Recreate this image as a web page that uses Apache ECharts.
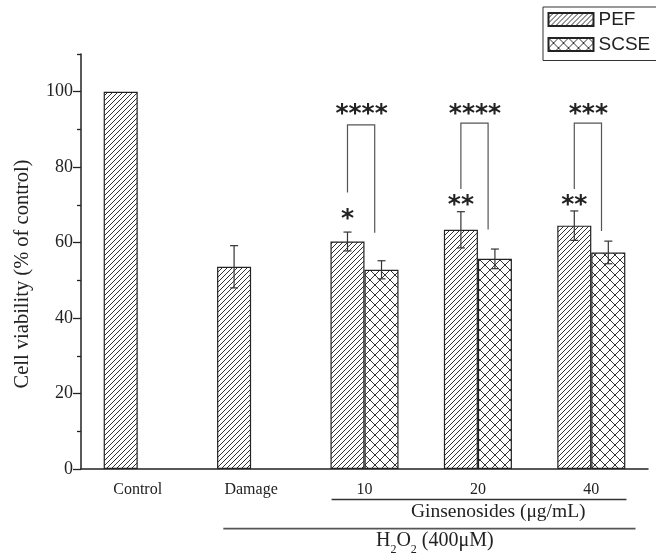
<!DOCTYPE html>
<html><head><meta charset="utf-8">
<script src="https://cdn.jsdelivr.net/npm/echarts@6/dist/echarts.min.js"></script>
<style>html,body{margin:0;padding:0;background:#fff}#c{width:656px;height:557px}</style>
</head><body><div id="c"></div>
<script>
// ---- data ----
const categories = ['Control', 'Damage', '10', '20', '40'];
const pefValues = [100, 53.6, 60.3, 63.4, 64.5];
const pefErrors = [null, 5.6, 2.5, 4.8, 3.9];
const scseValues = ['-', '-', 52.8, 55.7, 57.4];
const scseErrors = [null, null, 2.4, 2.6, 3.0];
const yMajorTicks = [0, 20, 40, 60, 80, 100];
const yMinorTicks = [10, 30, 50, 70, 90, 110];
// significance annotations
const sigCategoryIndex = [2, 3, 4];
const bracketTop = [91.2, 91.7, 91.7];
const bracketLeftBottom = [73.3, 74.2, 74.2];
const bracketRightBottom = [62.6, 63.5, 63.1];
const bracketStars = ['****', '****', '***'];
const bracketStarsY = [95.5, 95.5, 95.5];
const damageStars = ['*', '**', '**'];
const damageStarsY = [67.6, 71.4, 71.4];

// ---- patterns ----
function hatchPattern() {
  const c = document.createElement('canvas'); c.width = 5; c.height = 5;
  const g = c.getContext('2d');
  g.fillStyle = '#fff'; g.fillRect(0, 0, 5, 5);
  g.strokeStyle = '#333'; g.lineWidth = 1;
  g.beginPath();
  [-5, 0, 5].forEach(o => { g.moveTo(o - 1, 6); g.lineTo(o + 6, -1); });
  g.stroke();
  return c;
}
function crossPattern() {
  const c = document.createElement('canvas'); c.width = 10; c.height = 10;
  const g = c.getContext('2d');
  g.fillStyle = '#fff'; g.fillRect(0, 0, 10, 10);
  g.strokeStyle = '#333'; g.lineWidth = 1;
  g.beginPath();
  [-10, 0, 10].forEach(o => {
    g.moveTo(o - 2, -2); g.lineTo(o + 12, 12);
    g.moveTo(o - 2, 12); g.lineTo(o + 12, -2);
  });
  g.stroke();
  return c;
}

const chart = echarts.init(document.getElementById('c'), null, {renderer: 'canvas'});
const serif = 'Liberation Serif';
const ink = '#222';

function errRender(sign) {
  return function (params, api) {
    const i = api.value(0), m = api.value(1), e = api.value(2);
    const cw = api.size([1, 0])[0];
    const hi = api.coord([i, m + e]), lo = api.coord([i, m - e]);
    const x = hi[0] + sign * 0.15 * cw;
    const cap = 4;
    const st = {stroke: '#333', lineWidth: 1.2};
    return {type: 'group', children: [
      {type: 'line', shape: {x1: x, y1: hi[1], x2: x, y2: lo[1]}, style: st},
      {type: 'line', shape: {x1: x - cap, y1: hi[1], x2: x + cap, y2: hi[1]}, style: st},
      {type: 'line', shape: {x1: x - cap, y1: lo[1], x2: x + cap, y2: lo[1]}, style: st}
    ]};
  };
}
function sigRender(params, api) {
  const k = params.dataIndex;
  const i = api.value(0);
  const cw = api.size([1, 0])[0];
  const c = api.coord([i, api.value(1)]);
  const xl = c[0] - 0.15 * cw, xr = c[0] + 0.09 * cw;
  const yt = c[1];
  const yl = api.coord([i, api.value(2)])[1];
  const yr = api.coord([i, api.value(3)])[1];
  const ys = api.coord([i, api.value(4)])[1];
  const yd = api.coord([i, api.value(5)])[1];
  const starFont = 'bold 25px "DejaVu Sans"';
  return {type: 'group', children: [
    {type: 'polyline', shape: {points: [[xl, yl], [xl, yt], [xr, yt], [xr, yr]]},
     style: {stroke: '#555', fill: null, lineWidth: 1.2}},
    {type: 'text', x: c[0] - 0.026 * cw, y: ys + 6,
     style: {text: bracketStars[k], font: starFont, fill: ink, align: 'center', verticalAlign: 'middle'}},
    {type: 'text', x: xl, y: yd + 6,
     style: {text: damageStars[k], font: starFont, fill: ink, align: 'center', verticalAlign: 'middle'}}
  ]};
}

const pefErrData = pefErrors.map((e, i) => e == null ? null : [i, pefValues[i], e]).filter(Boolean);
const scseErrData = scseErrors.map((e, i) => e == null ? null : [i, scseValues[i], e]).filter(Boolean);
const sigData = sigCategoryIndex.map((ci, k) => [ci, bracketTop[k], bracketLeftBottom[k], bracketRightBottom[k], bracketStarsY[k], damageStarsY[k]]);

const option = {
  animation: false,
  backgroundColor: '#fff',
  grid: {left: 81, right: 8, top: 54, bottom: 88, containLabel: false},
  legend: {
    data: ['PEF', 'SCSE'], orient: 'vertical', left: 543, top: 7, icon: 'rect',
    padding: [2.5, 14, 6, 4.5], itemGap: 5, itemWidth: 45, itemHeight: 13,
    borderColor: '#333', borderWidth: 1, selectedMode: false,
    textStyle: {fontFamily: 'Liberation Sans', fontSize: 19, color: ink, lineHeight: 20}
  },
  xAxis: [
    {type: 'category', data: categories, boundaryGap: true,
     axisLine: {lineStyle: {color: ink, width: 1.5}},
     axisTick: {alignWithLabel: true, length: 8, lineStyle: {color: ink, width: 1.3}},
     axisLabel: {fontFamily: serif, fontSize: 16, color: ink, margin: 13},
     splitLine: {show: false}},
    {type: 'category', data: categories, boundaryGap: true, position: 'bottom',
     axisLine: {show: false},
     axisTick: {length: 4, lineStyle: {color: ink, width: 1.3}},
     axisLabel: {show: false}, splitLine: {show: false}}
  ],
  yAxis: [
    {type: 'value', min: 0, max: 110,
     axisLine: {show: true, lineStyle: {color: ink, width: 1.5}},
     axisTick: {show: true, length: 8, customValues: yMajorTicks, lineStyle: {color: ink, width: 1.3}},
     axisLabel: {customValues: yMajorTicks, fontFamily: serif, fontSize: 18, color: ink, margin: 8},
     splitLine: {show: false}},
    {type: 'value', min: 0, max: 110, position: 'left',
     axisLine: {show: false},
     axisTick: {show: true, length: 4, customValues: yMinorTicks, lineStyle: {color: ink, width: 1.3}},
     axisLabel: {show: false}, splitLine: {show: false}}
  ],
  series: [
    {name: 'PEF', type: 'bar', data: pefValues, barWidth: '30%', barGap: '0%',
     itemStyle: {color: {image: hatchPattern(), repeat: 'repeat'}, borderColor: ink, borderWidth: 1.2}},
    {name: 'SCSE', type: 'bar', data: scseValues, barWidth: '30%', barGap: '0%',
     itemStyle: {color: {image: crossPattern(), repeat: 'repeat'}, borderColor: ink, borderWidth: 1.2}},
    {type: 'custom', renderItem: errRender(-1), data: pefErrData, z: 5, silent: true},
    {type: 'custom', renderItem: errRender(1), data: scseErrData, z: 5, silent: true},
    {type: 'custom', renderItem: sigRender, data: sigData, z: 6, silent: true}
  ]
};
chart.setOption(option);

// axis-relative annotations below the x axis
const cx = i => chart.convertToPixel({xAxisIndex: 0}, i);
const cw = cx(1) - cx(0);
const y0 = chart.convertToPixel({yAxisIndex: 0}, 0);
chart.setOption({
  graphic: [
    {type: 'text', x: 22.5, y: 274, rotation: Math.PI / 2,
     style: {text: 'Cell viability (% of control)', font: '20.5px "Liberation Serif"', fill: ink, align: 'center', verticalAlign: 'middle'}},
    {type: 'line', shape: {x1: cx(2) - 0.29 * cw, y1: y0 + 30.5, x2: cx(4) + 0.31 * cw, y2: y0 + 30.5},
     style: {stroke: '#333', lineWidth: 1.3}},
    {type: 'text', x: cx(3) + 0.18 * cw, y: y0 + 43,
     style: {text: 'Ginsenosides (μg/mL)', font: '19.5px "Liberation Serif"', fill: ink, align: 'center', verticalAlign: 'middle'}},
    {type: 'line', shape: {x1: cx(1) - 0.245 * cw, y1: y0 + 59.7, x2: cx(4) + 0.39 * cw, y2: y0 + 59.7},
     style: {stroke: '#555', lineWidth: 1.8}},
    {type: 'text', x: cx(2) + 0.62 * cw, y: y0 + 72,
     style: {text: 'H{sub|2}O{sub|2} (400μM)', fill: ink, align: 'center', verticalAlign: 'middle',
       fontFamily: 'Liberation Serif', fontSize: 20, lineHeight: 29,
       rich: {sub: {fontFamily: 'Liberation Serif', fontSize: 12, lineHeight: 12, verticalAlign: 'bottom', fill: ink}}}}
  ]
});
</script>
</body></html>
